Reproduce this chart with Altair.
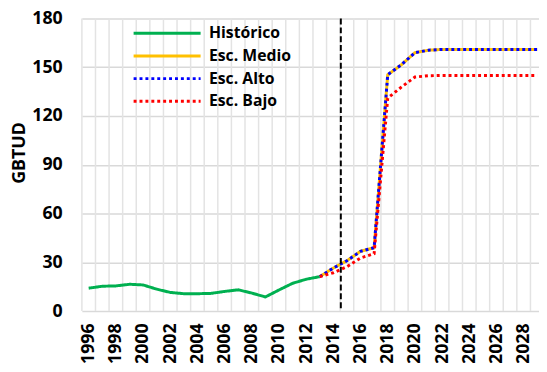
import altair as alt
import pandas as pd

# ---- data ----
years_hist = list(range(1996, 2014))
historico = [14.1, 15.3, 15.5, 16.5, 16.1, 13.5, 11.5, 10.7, 10.7, 10.9,
             12.1, 13.1, 11.1, 8.7, 13.0, 17.1, 19.6, 21.2]

years_esc = list(range(2013, 2030))
esc_medio = [21.2, 26.5, 31.0, 36.8, 39.0, 145.4, 151.5, 159.0, 160.5, 161.0,
             161.0, 161.0, 161.0, 161.0, 161.0, 161.0, 161.0]
esc_alto = [21.2, 26.5, 31.0, 36.8, 39.0, 145.4, 151.5, 159.0, 160.5, 161.0,
            161.0, 161.0, 161.0, 161.0, 161.0, 161.0, 161.0]
esc_bajo = [21.2, 23.6, 27.3, 32.7, 35.3, 131.0, 137.8, 144.0, 144.8, 145.0,
            145.0, 145.0, 145.0, 145.0, 145.0, 145.0, 145.0]

series_names = ["Histórico", "Esc. Medio", "Esc. Alto", "Esc. Bajo"]
series_colors = ["#00B050", "#FFC000", "#0000FF", "#FF0000"]
series_dash = [[1, 0], [1, 0], [3, 3], [3, 3]]

x_tick_labels = list(range(1996, 2029, 2))
x_grid = [y + 0.5 for y in range(1995, 2029)]
y_ticks = [0, 30, 60, 90, 120, 150, 180]
marker_year = 2014.55

rows = []
for y, v in zip(years_hist, historico):
    rows.append({"year": y, "value": v, "serie": "Histórico"})
for name, vals in [("Esc. Medio", esc_medio), ("Esc. Alto", esc_alto), ("Esc. Bajo", esc_bajo)]:
    for y, v in zip(years_esc, vals):
        rows.append({"year": y, "value": v, "serie": name})
df = pd.DataFrame(rows)

FONT = "Open Sans"
X_DOMAIN = [1995.5, 2029.13]
x_scale = alt.Scale(domain=X_DOMAIN, nice=False, zero=False)
y_scale = alt.Scale(domain=[0, 180], nice=False)

x_axis = alt.Axis(values=x_tick_labels, labelAngle=270, grid=False, ticks=False,
                  domain=False, labelPadding=12, labelFontSize=18,
                  labelFontWeight="bold", labelColor="black", labelFont=FONT,
                  labelOverlap=False, labelBound=False, labelFlush=False,
                  title=None, format="d")
y_axis = alt.Axis(values=y_ticks, grid=True, gridColor="#d9d9d9", gridWidth=1.5,
                  ticks=False, domain=False, labelPadding=20, labelFontSize=18,
                  labelFontWeight="bold", labelColor="black", labelFont=FONT,
                  labelOverlap=False, labelBound=False,
                  title="GBTUD", titleFontSize=18, titleFontWeight="bold",
                  titleColor="black", titleFont=FONT, titleX=-58, titleY=136,
                  titleBaseline="alphabetic")

legend_kw = dict(title=None, orient="none", legendX=51, legendY=7,
                 symbolType="stroke", symbolSize=4624, symbolStrokeWidth=3,
                 clipHeight=16, rowPadding=7, labelFontSize=16, labelFontWeight="bold",
                 labelColor="black", labelFont=FONT, labelOffset=7)

color_enc = alt.Color("serie:N", scale=alt.Scale(domain=series_names, range=series_colors),
                      legend=alt.Legend(**legend_kw))
dash_enc = alt.StrokeDash("serie:N", scale=alt.Scale(domain=series_names, range=series_dash),
                          legend=alt.Legend(**legend_kw))


def xq(field):
    return alt.X(field, type="quantitative", scale=x_scale, axis=x_axis)


def yq(field):
    return alt.Y(field, type="quantitative", scale=y_scale, axis=y_axis)


base_axis = alt.Chart(df).mark_line(opacity=0).encode(x=xq("year"), y=yq("value"))

grid = alt.Chart(pd.DataFrame({"g": x_grid})).mark_rule(color="#e3e3e3", strokeWidth=1.5).encode(
    x=xq("g"))

layers = [base_axis, grid]
for name in series_names:
    layers.append(
        alt.Chart(df).transform_filter(alt.datum.serie == name).mark_line(strokeWidth=3).encode(
            x=xq("year"), y=yq("value"), color=color_enc, strokeDash=dash_enc))

vline = alt.Chart(pd.DataFrame({"x": [marker_year]})).mark_rule(
    color="black", strokeWidth=2, strokeDash=[6, 3]).encode(x=xq("x"))
layers.append(vline)

chart = alt.layer(*layers).properties(
    width=464, height=297,
    autosize=alt.AutoSizeParams(type="none"),
    padding={"left": 75, "top": 8, "right": 0, "bottom": 50},
).configure_view(stroke=None).configure_axis(labelFont=FONT, labelOverlap=False)

chart.save("out.html", embed_options={"renderer": "svg", "actions": False})
